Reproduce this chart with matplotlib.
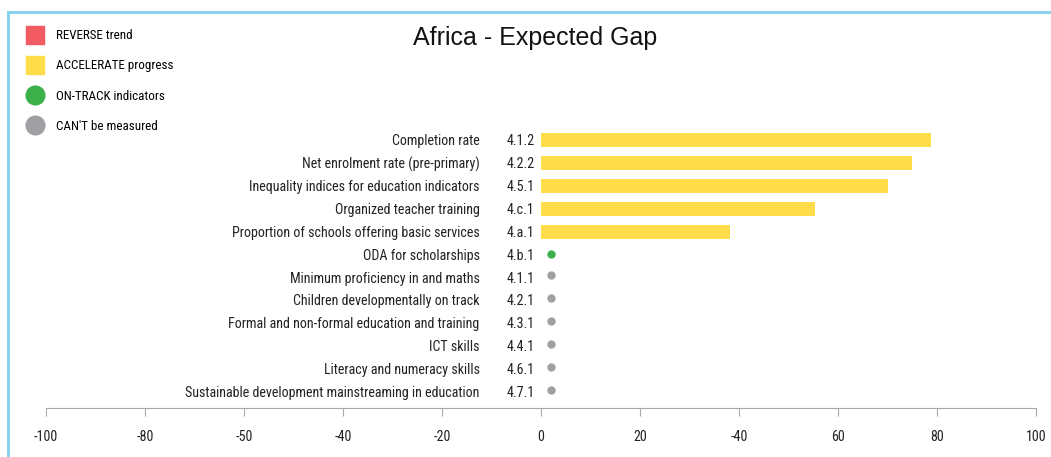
import numpy as np
import matplotlib.pyplot as plt
from matplotlib.lines import Line2D
from matplotlib import font_manager

names = ['Completion rate', 'Net enrolment rate (pre-primary)',
         'Inequality indices for education indicators', 'Organized teacher training',
         'Proportion of schools offering basic services', 'ODA for scholarships',
         'Minimum proficiency in and maths', 'Children developmentally on track',
         'Formal and non-formal education and training', 'ICT skills',
         'Literacy and numeracy skills', 'Sustainable development mainstreaming in education']
codes = ['4.1.2', '4.2.2', '4.5.1', '4.c.1', '4.a.1', '4.b.1',
         '4.1.1', '4.2.1', '4.3.1', '4.4.1', '4.6.1', '4.7.1']
values = [78.8, 74.9, 70.1, 55.4, 38.2, 2, 2, 2, 2, 2, 2, 2]
status = ['accelerate'] * 5 + ['ontrack'] + ['unknown'] * 6
xticks = [-100, -80, -60, -40, -20, 0, 20, 40, 60, 80, 100]
xticklabels = ['-100', '-80', '-50', '-40', '-20', '0', '20', '-40', '60', '80', '100']

RED = '#f25b62'
YELLOW = '#ffdc4a'
GREEN = '#3cb04a'
GRAY = '#a0a0a4'

# pick a condensed face if one is installed
fonts = font_manager.fontManager.ttflist
avail = {f.name for f in fonts}
narrow = None
for cand in ['Liberation Sans Narrow', 'Roboto Condensed', 'Open Sans Condensed',
             'Noto Sans Condensed', 'DejaVu Sans Condensed']:
    if cand in avail:
        narrow = {'family': cand}
        break
if narrow is None:
    cond = [f for f in fonts if f.stretch in ('condensed', 'semi-condensed', 'extra-condensed')]
    if cond:
        narrow = {'family': cond[0].name, 'stretch': cond[0].stretch}
    else:
        narrow = {'family': 'Liberation Sans'}
fs = 10.1 if narrow['family'] != 'Liberation Sans' else 9

fig = plt.figure(figsize=(10.51, 4.57), dpi=100)
ax = fig.add_axes([46 / 1051, 1 - 408 / 457, 990 / 1051, 280 / 457])

y = -np.arange(len(names))
for yi, v, s in zip(y, values, status):
    if s == 'accelerate':
        ax.barh(yi, v, height=0.61, color=YELLOW, left=0)
    elif s == 'ontrack':
        ax.plot(v, yi, 'o', color=GREEN, markersize=6, markeredgewidth=0)
    else:
        ax.plot(v, yi + 0.1, 'o', color=GRAY, markersize=6, markeredgewidth=0)

for yi, n, c in zip(y, names, codes):
    ax.text(-12.4, yi - 0.05, n, ha='right', va='center', fontsize=fs, color='#222222', **narrow)
    ax.text(-6.9, yi - 0.05, c, ha='left', va='center', fontsize=fs, color='#222222', **narrow)

ax.set_xlim(-100, 100)
ax.set_ylim(-11.7, 0.52)
ax.set_xticks(xticks)
ax.set_xticklabels(xticklabels, fontsize=fs, color='#222222', **narrow)
ax.set_yticks([])
for side in ['top', 'right', 'left']:
    ax.spines[side].set_visible(False)
ax.spines['bottom'].set_color('#aaaaaa')
ax.tick_params(axis='x', length=6, color='#aaaaaa', pad=10)

fig.text(535 / 1051, 1 - 38 / 457, 'Africa - Expected Gap', ha='center', va='center',
         fontsize=18, family='Liberation Sans', color='#111111')

handles = [Line2D([], [], marker='s', color=RED, linestyle='', markersize=13.5),
           Line2D([], [], marker='s', color=YELLOW, linestyle='', markersize=13.5),
           Line2D([], [], marker='o', color=GREEN, linestyle='', markersize=13.5),
           Line2D([], [], marker='o', color=GRAY, linestyle='', markersize=13.5)]
labels = ['REVERSE trend', 'ACCELERATE progress', 'ON-TRACK indicators', "CAN'T be measured"]
fig.legend(handles, labels, loc='upper left', bbox_to_anchor=(17 / 1051, 1 - 24 / 457),
           frameon=False, prop=dict(narrow, size=fs - 0.7), labelspacing=1.32,
           handletextpad=0.6, borderaxespad=0)

# light blue frame on top and left
fig.add_artist(Line2D([8 / 1051, 1], [1 - 12 / 457] * 2, color='#80d0f0', lw=2))
fig.add_artist(Line2D([8 / 1051] * 2, [0, 1 - 12 / 457], color='#80d0f0', lw=2))

fig.savefig('out.png', dpi=100)
